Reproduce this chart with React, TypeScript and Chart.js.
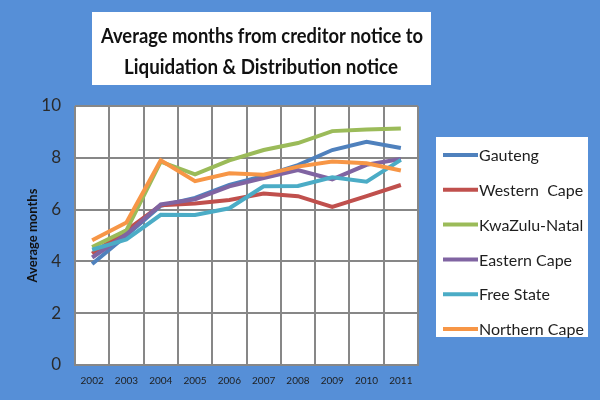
import { useEffect, useRef } from "react";
import { Chart, registerables } from "chart.js";

Chart.register(...registerables);

// Years on the category axis
const years = ["2002", "2003", "2004", "2005", "2006", "2007", "2008", "2009", "2010", "2011"];

// Average months per province
const gauteng = [3.9, 5.0, 6.15, 6.45, 6.95, 7.3, 7.72, 8.3, 8.62, 8.38];
const westernCape = [4.3, 5.2, 6.17, 6.24, 6.37, 6.62, 6.52, 6.1, 6.52, 6.95];
const kwaZuluNatal = [4.55, 5.2, 7.85, 7.36, 7.9, 8.3, 8.57, 9.03, 9.09, 9.13];
const easternCape = [4.15, 5.05, 6.2, 6.4, 6.9, 7.22, 7.53, 7.17, 7.73, 7.95];
const freeState = [4.45, 4.85, 5.8, 5.79, 6.05, 6.9, 6.91, 7.25, 7.08, 7.92];
const northernCape = [4.82, 5.5, 7.9, 7.1, 7.4, 7.35, 7.66, 7.86, 7.79, 7.51];

const seriesNames = ["Gauteng", "Western  Cape", "KwaZulu-Natal", "Eastern Cape", "Free State", "Northern Cape"];
const seriesValues = [gauteng, westernCape, kwaZuluNatal, easternCape, freeState, northernCape];
const seriesColors = ["#4F81BD", "#C0504D", "#9BBB59", "#8064A2", "#4BACC6", "#F79646"];

const yTicks = [0, 2, 4, 6, 8, 10];

const titleLines = ["Average months from creditor notice to", "Liquidation & Distribution notice"];
const yAxisTitle = "Average months";

const BG = "#568FD7";
const GRID = "#878787";

// Paints the blue backdrop and the white plot area
const backdrop = {
  id: "backdrop",
  beforeDraw(chart: Chart) {
    const { ctx, chartArea: a } = chart;
    ctx.save();
    ctx.fillStyle = BG;
    ctx.fillRect(0, 0, chart.width, chart.height);
    ctx.fillStyle = "#FFFFFF";
    ctx.fillRect(a.left, a.top, a.right - a.left, a.bottom - a.top);
    ctx.restore();
  },
};

// Title panel and legend panel in their white boxes
const panels = {
  id: "panels",
  afterDraw(chart: Chart) {
    const { ctx } = chart;
    ctx.save();

    // title box
    ctx.fillStyle = "#FFFFFF";
    ctx.fillRect(92, 12, 339, 73);
    ctx.fillStyle = "#111111";
    ctx.font = "bold 21px Lato";
    ctx.textAlign = "center";
    ctx.textBaseline = "middle";
    ctx.fillText(titleLines[0], 262, 36, 322);
    ctx.fillText(titleLines[1], 261, 67, 274);

    // legend box
    ctx.fillStyle = "#FFFFFF";
    ctx.fillRect(436, 137, 152, 200);
    ctx.textAlign = "left";
    ctx.font = "16px Lato";
    chart.data.datasets.forEach((ds, i) => {
      const y = 155 + i * 34.8;
      ctx.strokeStyle = ds.borderColor as string;
      ctx.lineWidth = 4;
      ctx.lineCap = "butt";
      ctx.beginPath();
      ctx.moveTo(443, y);
      ctx.lineTo(478, y);
      ctx.stroke();
      ctx.fillStyle = "#1E1E1E";
      ctx.fillText(ds.label as string, 479, y + 1);
    });

    ctx.restore();
  },
};

export default function App() {
  const canvasRef = useRef<HTMLCanvasElement | null>(null);

  useEffect(() => {
    document.body.style.margin = "0";
    const canvas = canvasRef.current;
    if (!canvas) return;

    const chart = new Chart(canvas, {
      type: "line",
      data: {
        labels: years,
        datasets: seriesValues.map((values, i) => ({
          label: seriesNames[i],
          data: values,
          borderColor: seriesColors[i],
          backgroundColor: seriesColors[i],
          borderWidth: 4,
          pointRadius: 0,
          tension: 0,
          fill: false,
          order: seriesValues.length - i,
        })),
      },
      options: {
        animation: false,
        responsive: false,
        maintainAspectRatio: false,
        layout: { padding: { left: 0, top: 106, right: 182, bottom: 0 } },
        plugins: {
          legend: { display: false },
          title: { display: false },
          tooltip: { enabled: false },
        },
        scales: {
          x: {
            type: "category",
            offset: true,
            grid: { offset: true, color: GRID, lineWidth: 2, drawTicks: false },
            border: { display: true, color: GRID, width: 2 },
            ticks: {
              color: "#1E1E1E",
              font: { family: "Lato", size: 10 },
              padding: 10,
              maxRotation: 0,
              autoSkip: false,
            },
            afterFit(axis: any) {
              axis.height = 35;
            },
          },
          y: {
            min: 0,
            max: 10,
            afterBuildTicks(axis: any) {
              axis.ticks = yTicks.map((v) => ({ value: v }));
            },
            grid: { color: GRID, lineWidth: 2, drawTicks: false },
            border: { display: false },
            ticks: {
              color: "#2A2A2A",
              font: { family: "Lato", size: 17 },
              padding: 14,
            },
            title: {
              display: true,
              text: yAxisTitle,
              color: "#111111",
              font: { family: "Lato", size: 13, weight: "bold" },
              padding: { top: 25, bottom: 0 },
            },
            afterFit(axis: any) {
              axis.width = 75;
            },
          },
        },
      },
      plugins: [backdrop, panels],
    });

    return () => chart.destroy();
  }, []);

  return (
    <div style={{ position: "absolute", left: 0, top: 0, width: 600, height: 400 }}>
      <canvas ref={canvasRef} width={600} height={400} />
    </div>
  );
}
